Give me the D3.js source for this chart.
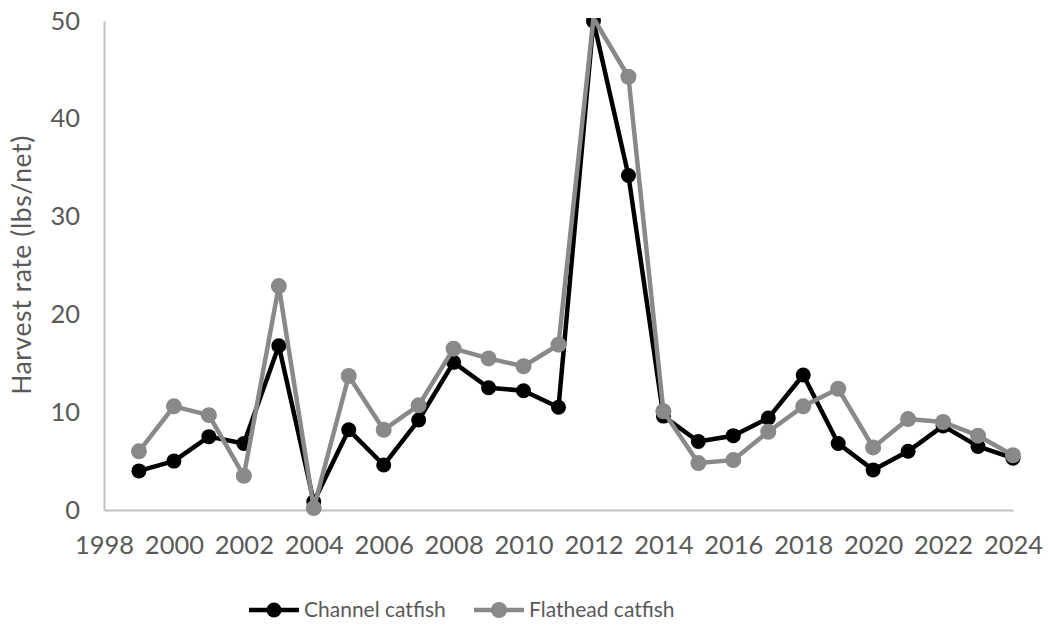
<!DOCTYPE html>
<html>
<head>
<meta charset="utf-8">
<script src="https://cdn.jsdelivr.net/npm/d3@7/dist/d3.min.js"></script>
<style>
  html, body { margin: 0; padding: 0; background: #fff; }
  svg { display: block; font-family: Lato, "Liberation Sans", sans-serif; }
</style>
</head>
<body>
<svg id="chart" width="1048" height="628"></svg>
<script>
// Survey years and harvest rates (lbs/net) for each species
const years = [1999, 2000, 2001, 2002, 2003, 2004, 2005, 2006, 2007, 2008, 2009, 2010, 2011,
               2012, 2013, 2014, 2015, 2016, 2017, 2018, 2019, 2020, 2021, 2022, 2023, 2024];
const channelCatfish = [4.0, 5.0, 7.5, 6.8, 16.8, 0.85, 8.2, 4.6, 9.2, 15.1, 12.5, 12.2, 10.5,
                        50.0, 34.2, 9.6, 7.0, 7.6, 9.4, 13.8, 6.8, 4.1, 6.0, 8.6, 6.5, 5.3];
const flatheadCatfish = [6.0, 10.6, 9.7, 3.5, 22.9, 0.2, 13.7, 8.2, 10.7, 16.5, 15.5, 14.7, 16.9,
                         50.3, 44.3, 10.1, 4.8, 5.1, 8.0, 10.6, 12.4, 6.4, 9.3, 9.0, 7.6, 5.6];
const xTicks = [1998, 2000, 2002, 2004, 2006, 2008, 2010, 2012, 2014, 2016, 2018, 2020, 2022, 2024];
const yTicks = [0, 10, 20, 30, 40, 50];
const seriesNames = ["Channel catfish", "Flathead catfish"];
const seriesColors = ["#000000", "#898989"];

const svg = d3.select("#chart");
const axisColor = "#bfbfbf";
const textColor = "#595959";

const x = d3.scaleLinear().domain([1998, 2024]).range([104, 1013]);
const y = d3.scaleLinear().domain([0, 50]).range([510, 21]);

// Plot area clip (points beyond the axis maximum are cut off)
svg.append("defs").append("clipPath").attr("id", "plot-clip")
  .append("rect").attr("x", 80).attr("y", 18).attr("width", 960).attr("height", 510);

// Axes
const xAxis = svg.append("g").attr("transform", `translate(0,${y(0)})`)
  .call(d3.axisBottom(x).tickValues(xTicks).tickFormat(d3.format("d")).tickSize(0).tickPadding(26));
xAxis.select(".domain").attr("stroke", axisColor).attr("stroke-width", 2);
xAxis.selectAll("text").attr("fill", textColor).attr("font-size", 25.5)
  .attr("font-family", "Lato, sans-serif");

const yAxis = svg.append("g").attr("transform", `translate(${x(1998)},0)`)
  .call(d3.axisLeft(y).tickValues(yTicks).tickSize(0).tickPadding(24));
yAxis.select(".domain").attr("stroke", axisColor).attr("stroke-width", 2);
yAxis.selectAll("text").attr("fill", textColor).attr("font-size", 25.5)
  .attr("font-family", "Lato, sans-serif");

// Axis title
svg.append("text")
  .attr("transform", `translate(31,${265}) rotate(-90)`)
  .attr("text-anchor", "middle")
  .attr("fill", textColor)
  .attr("font-size", 26.5)
  .attr("letter-spacing", 0.6)
  .text("Harvest rate (lbs/net)");

// Series lines and markers
const line = d3.line().x((d, i) => x(years[i])).y(d => y(d));
const allSeries = [channelCatfish, flatheadCatfish];
const radii = [7.5, 8];

allSeries.forEach((vals, s) => {
  const g = svg.append("g").attr("clip-path", "url(#plot-clip)");
  g.append("path")
    .datum(vals)
    .attr("fill", "none")
    .attr("stroke", seriesColors[s])
    .attr("stroke-width", 4.5)
    .attr("stroke-linejoin", "round")
    .attr("d", line);
  g.selectAll("circle")
    .data(vals.map((v, i) => ({ v, yr: years[i] })).filter(d => d.v <= 50))
    .join("circle")
    .attr("cx", d => x(d.yr))
    .attr("cy", d => y(d.v))
    .attr("r", radii[s])
    .attr("fill", seriesColors[s]);
});

// Legend
const legendY = 610;
const legendItems = [
  { name: seriesNames[0], color: seriesColors[0], x0: 249, r: radii[0] },
  { name: seriesNames[1], color: seriesColors[1], x0: 474, r: radii[1] }
];
legendItems.forEach(item => {
  const g = svg.append("g");
  g.append("line")
    .attr("x1", item.x0).attr("x2", item.x0 + 50)
    .attr("y1", legendY).attr("y2", legendY)
    .attr("stroke", item.color).attr("stroke-width", 4.5);
  g.append("circle")
    .attr("cx", item.x0 + 25).attr("cy", legendY).attr("r", item.r)
    .attr("fill", item.color);
  g.append("text")
    .attr("x", item.x0 + 55).attr("y", legendY)
    .attr("dy", "0.35em")
    .attr("fill", textColor)
    .attr("font-size", 21)
    .text(item.name);
});
</script>
</body>
</html>
